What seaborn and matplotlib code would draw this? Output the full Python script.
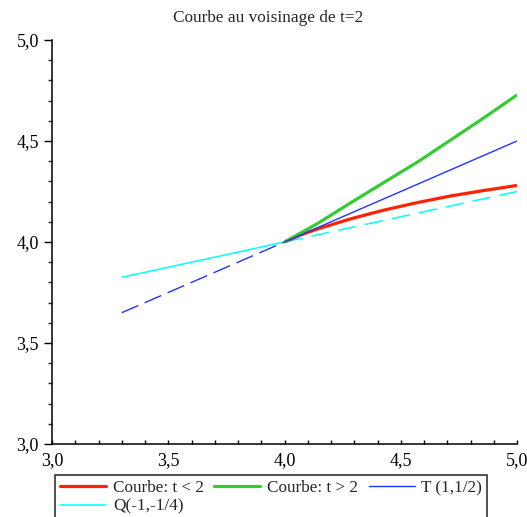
import matplotlib
matplotlib.use("Agg")
import matplotlib.pyplot as plt
import seaborn as sns
import pandas as pd
from matplotlib.ticker import MultipleLocator, FuncFormatter
from matplotlib.lines import Line2D

# ---- data ----
curve_x = [4.0, 4.07, 4.143, 4.286, 4.428, 4.571, 4.715, 4.858, 5.0]
red_y = [4.0, 4.035, 4.065, 4.115, 4.158, 4.195, 4.228, 4.255, 4.28]      # Courbe: t < 2
green_y = [4.0, 4.045, 4.092, 4.195, 4.295, 4.395, 4.505, 4.615, 4.728]   # Courbe: t > 2

line_x_left = [3.3, 4.0]
line_x_right = [4.0, 5.0]
T_left = [3.65, 4.0]
T_right = [4.0, 4.5]
Q_left = [3.825, 4.0]
Q_right = [4.0, 4.25]

labels = ["Courbe: t < 2", "Courbe: t > 2", "T (1,1/2)", "Q(-1,-1/4)"]
title = "Courbe au voisinage de t=2"

RED = "#ff2200"
GREEN = "#33cc33"
BLUE = "#2233ff"
CYAN = "#00ffff"

sns.set_style("white")
plt.rcParams["font.family"] = ["Liberation Serif", "DejaVu Serif"]

fig = plt.figure(figsize=(5.27, 5.17), dpi=100)
ax = fig.add_axes([52 / 527, 1 - 444 / 517, (517 - 52) / 527, (444 - 40) / 517])

def seg(x, y, color, lw, dashes=None, z=2):
    df = pd.DataFrame({"x": x, "y": y})
    sns.lineplot(data=df, x="x", y="y", ax=ax, color=color, linewidth=lw,
                 estimator=None, sort=False, zorder=z)
    ln = ax.lines[-1]
    if dashes is not None:
        ln.set_dashes(dashes)
    ln.set_solid_capstyle("butt")
    ln.set_solid_joinstyle("round")

seg(line_x_left, Q_left, CYAN, 1.1, z=2)
seg(line_x_right, Q_right, CYAN, 1.1, dashes=(12, 6), z=2)
seg(line_x_left, T_left, BLUE, 1.0, dashes=(13, 5), z=3)
seg(curve_x, red_y, RED, 2.3, z=4)
seg(curve_x, green_y, GREEN, 2.3, z=4)
seg(line_x_right, T_right, BLUE, 1.0, z=5)

ax.set_xlim(3.0, 5.0)
ax.set_ylim(3.0, 5.0)
ax.set_xlabel("")
ax.set_ylabel("")

for s in ["top", "right"]:
    ax.spines[s].set_visible(False)
for s in ["left", "bottom"]:
    ax.spines[s].set_linewidth(1.1)
    ax.spines[s].set_color("black")

fmt = FuncFormatter(lambda v, p: f"{v:.1f}".replace(".", ","))
ax.xaxis.set_major_locator(MultipleLocator(0.5))
ax.xaxis.set_minor_locator(MultipleLocator(0.1))
ax.yaxis.set_major_locator(MultipleLocator(0.5))
ax.yaxis.set_minor_locator(MultipleLocator(0.1))
ax.xaxis.set_major_formatter(fmt)
ax.yaxis.set_major_formatter(fmt)

ax.tick_params(axis="x", which="both", direction="in", length=3, width=1, pad=6,
               labelsize=13, bottom=True, colors="black")
ax.tick_params(axis="y", which="major", direction="out", length=5.5, width=1, pad=4,
               labelsize=13, left=True, colors="black")
ax.tick_params(axis="y", which="minor", direction="out", length=3, width=1, left=True)

fig.text(268 / 527, 1 - 18 / 517, title, ha="center", va="center", fontsize=12.4)

handles = [Line2D([], [], color=RED, lw=2.3),
           Line2D([], [], color=CYAN, lw=1.1),
           Line2D([], [], color=GREEN, lw=2.3),
           Line2D([], [], color=BLUE, lw=1.0)]
hl = [labels[0], labels[3], labels[1], labels[2]]
leg = fig.legend(handles, hl, ncol=3, loc="upper left",
                 bbox_to_anchor=(55 / 527, 1 - 475 / 517),
                 fontsize=12.3, frameon=True, fancybox=False,
                 handlelength=2.7, handletextpad=0.4, columnspacing=0.6,
                 borderpad=0.3, labelspacing=0.15, borderaxespad=0)
leg.get_frame().set_edgecolor("black")
leg.get_frame().set_linewidth(1.2)

fig.savefig("out.png", dpi=100)
